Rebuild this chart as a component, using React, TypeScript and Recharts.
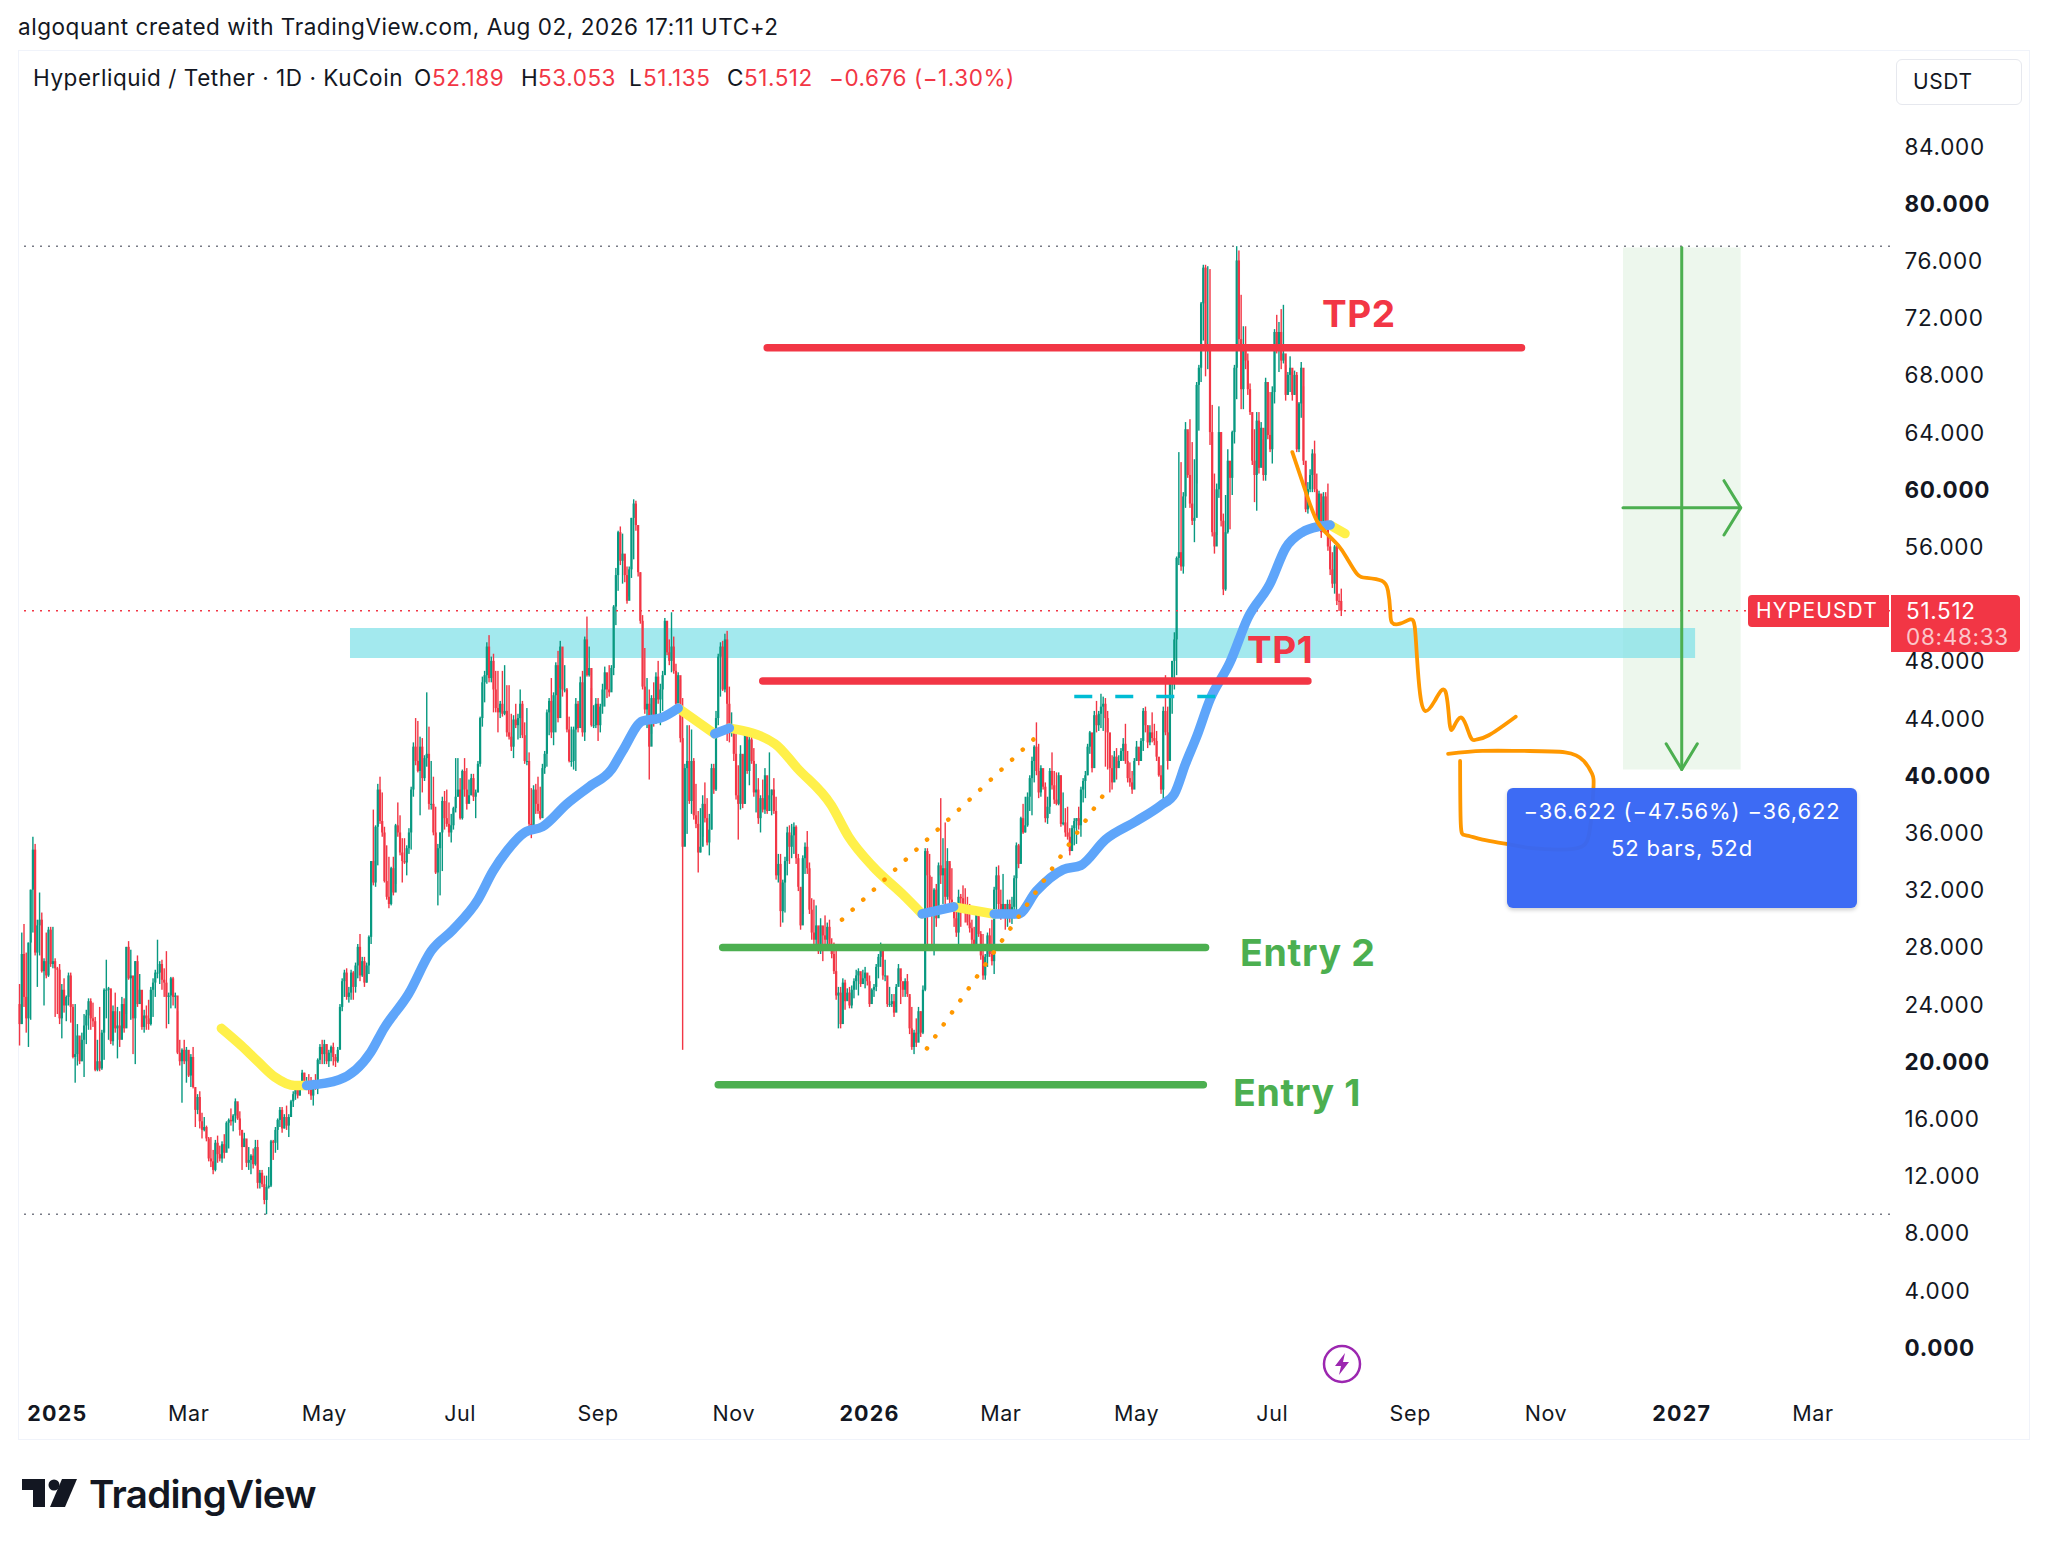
import { Bar, ComposedChart, Line, ReferenceArea, ReferenceLine, XAxis, YAxis } from "recharts";

// daily candles, first bar is 17 days before 1 Jan 2025; each open is the previous close
const firstDay = -17;
const firstOpen = 24;

const highs = [
  25.4, 29, 29.6, 27.6, 28.3, 32, 35.7, 35.2, 29.9, 31.8,
  30.4, 27.2, 29, 29.4, 29.4, 29.4, 27.2, 26.6, 26.8, 25.4,
  25.8, 24.6, 26.2, 26.2, 24, 24, 22.6, 21.3, 22, 23.3,
  23.6, 24.4, 24.4, 24.1, 23.1, 21.5, 23.8, 22.2, 25.1, 27.1,
  25.2, 25, 23.9, 24.8, 23.8, 23.5, 24.5, 24.4, 28, 28.4,
  27.8, 24.7, 27, 27.4, 26.1, 24.7, 23.6, 23.9, 24.3, 25.2,
  25.8, 26.4, 28.5, 27, 27.1, 26.5, 27.7, 24.8, 25.9, 25.9,
  24.8, 23.5, 21.5, 20.9, 21.5, 21, 20.5, 20.5, 21, 18.1,
  17.7, 17.9, 16.4, 16.1, 15.5, 14.7, 14.7, 13.8, 14.5, 14.8,
  14.1, 14.4, 14.9, 15.8, 16, 16.7, 16.3, 17.4, 17, 16.5,
  15.2, 15, 14.1, 14, 13.5, 13.9, 14.5, 14.5, 12.4, 12.4,
  12, 12, 12.6, 14.5, 14.5, 15.4, 16, 16.8, 16.8, 16.3,
  16.9, 16.3, 17.3, 17.9, 18.5, 18.5, 18.5, 19.4, 19.2, 18.9,
  19.1, 18.9, 18.7, 19.1, 20.2, 21.2, 21.5, 21.5, 21.2, 20.8,
  21.1, 21.3, 20.5, 21, 24, 25.8, 26.4, 26.5, 25.2, 26.4,
  26.3, 26.9, 28.2, 28.9, 27.3, 27.3, 26.9, 28.8, 34, 37.6,
  36.5, 39.4, 39.9, 38.8, 36.4, 35.1, 34.3, 33.6, 34.3, 36.6,
  38.1, 37.2, 35.6, 35.6, 35.1, 36.3, 39.2, 42.3, 44, 43.8,
  42.7, 42.6, 41.4, 45.8, 43.4, 41, 39.9, 37.8, 35.2, 36,
  38.5, 38.9, 39, 38.1, 37.3, 37.8, 41.2, 41.2, 39.8, 40.4,
  41.2, 40.5, 39.7, 40.1, 40.1, 39, 41, 44.1, 46.9, 47.3,
  49.3, 49.8, 48.3, 48.5, 47.3, 47.3, 45.2, 47.3, 47.7, 46.3,
  46.3, 44.3, 44.2, 45, 44.3, 46, 45.2, 43.7, 44.7, 41.6,
  39.1, 39.3, 39.4, 39.9, 39.2, 40.8, 41.7, 44.6, 45.4, 46.8,
  45.8, 47.9, 48.7, 49.4, 48.2, 47.7, 46.1, 44.1, 43.4, 43.4,
  45.4, 45.2, 46.9, 47.3, 49.7, 51.1, 49, 46.1, 44.9, 45.4,
  45.4, 45, 46.4, 47.6, 46.4, 47.7, 47.7, 51.9, 54.5, 57.1,
  57.4, 56.9, 55.3, 54.6, 54.6, 58, 59.3, 59.2, 56.5, 54.2,
  51.2, 48.9, 46.8, 46, 45.6, 46.5, 47.2, 48, 46.4, 47.3,
  51, 50.8, 49.5, 51.4, 49.7, 47.8, 47.2, 46.7, 45.4, 40.8,
  43.5, 43.5, 43.2, 41.2, 39.4, 37.5, 37.7, 38.6, 39.5, 38.4,
  37.3, 40.8, 40.8, 44.5, 48.5, 49.3, 49.4, 49.9, 50.1, 46.2,
  44.4, 42.7, 43.4, 40.7, 42.1, 41.4, 43.2, 43, 43.2, 43.2,
  41.9, 40.8, 39.8, 38.6, 39.7, 40.5, 39.4, 41.6, 39, 39.8,
  38.5, 34.5, 34.5, 32.7, 34.3, 36.4, 36.5, 36.6, 36.7, 36.5,
  34.5, 32.1, 34.4, 35.3, 36.1, 33.9, 31.4, 31.3, 30.9, 29.4,
  30, 29.4, 30.2, 29.7, 29.9, 28.6, 28.3, 27.9, 25.2, 25.2,
  25.8, 25.7, 25.1, 25.2, 25.3, 25.8, 26.4, 26.5, 26.1, 26.4,
  26.6, 26.1, 26, 25.1, 25.4, 26.8, 27.5, 28.3, 28.2, 27.1,
  25.5, 25.2, 24.7, 24.7, 25.4, 26.8, 25.9, 25.2, 25.8, 26.1,
  24.5, 23.8, 22.2, 23, 23.8, 23.5, 25.3, 34.9, 34.9, 34.5,
  32.9, 32.1, 32.4, 33.9, 38.4, 35.6, 36.7, 34.9, 33.8, 33.5,
  30.8, 31, 32, 31.7, 32.3, 32.1, 31.5, 31, 29.9, 29.4,
  30.6, 30.4, 29.1, 28.9, 27.5, 29, 29.3, 29.9, 32.2, 33.6,
  33.7, 32, 33.1, 31, 31.3, 31.3, 31.5, 33, 35.3, 35.2,
  37.1, 38, 38.5, 38.8, 40, 41.3, 42.1, 43.7, 42.2, 40.7,
  40.3, 39.5, 38.5, 40.5, 41.6, 40.3, 40.2, 40.2, 40, 38.8,
  37.7, 37.8, 36.3, 36.5, 37, 37, 37.8, 39.2, 39.8, 40.3,
  42.2, 43.1, 42.8, 44.5, 45.2, 44.5, 45.7, 45.5, 45.4, 44.5,
  41.7, 41.4, 41.7, 41.9, 41.4, 41.9, 42.6, 43.6, 41.7, 40.9,
  40.3, 41.2, 42.4, 41.6, 42.6, 44.7, 44.8, 43.5, 43.5, 44.4,
  43.6, 43.1, 40.6, 40.7, 44.8, 47, 44.8, 46.6, 48, 50,
  55.3, 62.6, 61.9, 59.8, 64.7, 64, 64.9, 63.3, 62.1, 67.5,
  68.7, 73.1, 75.7, 75.7, 75.6, 75.4, 65.9, 61.1, 60.4, 65.8,
  64, 58.3, 59.6, 62.8, 60.9, 64.1, 68.7, 77, 76.7, 73.6,
  71.4, 71.4, 69.5, 67.4, 64.2, 64.2, 65.4, 65.4, 64.7, 63.5,
  67.8, 66.9, 66.8, 67.2, 71.2, 72.2, 71.7, 72.6, 72.9, 68.7,
  68.2, 69.3, 68.2, 68.3, 68.2, 66.1, 68.9, 67.2, 61.7, 60.5,
  61.4, 62.8, 63.4, 61.1, 59.9, 59.1, 59.8, 59.8, 60.4, 56.8,
  55.6, 56.1, 56.1, 52.7, 53.053,
];

const lows = [
  21.1, 22.6, 23.8, 22, 21, 22.9, 29, 27.4, 25.2, 27.4,
  26.2, 23.9, 25.8, 25.9, 26.6, 26.5, 23.1, 23.3, 22.6, 21.6,
  23.4, 22.8, 23.9, 22.7, 20.2, 18.5, 19.7, 19.8, 20, 18.9,
  21.2, 22.2, 22.2, 22.4, 19.3, 19.3, 19.3, 19.4, 20.1, 23,
  21.5, 21.2, 21.1, 22, 20.2, 21, 22, 22, 23.3, 25.7,
  22.9, 20.5, 19.8, 23.8, 24, 22.2, 22, 22.2, 22.2, 22.5,
  23.1, 24.5, 25.8, 25.4, 25, 24.5, 22.3, 22.6, 23.7, 23.9,
  23.7, 20.5, 19.7, 17.1, 19.8, 18.5, 18.9, 18.2, 18.1, 15.4,
  16.3, 15.3, 14.6, 15.1, 14.4, 13, 12.6, 12.1, 12.3, 12.9,
  13, 12.9, 13.2, 13.9, 13.9, 15.5, 15.1, 15.7, 15.9, 14.8,
  12.4, 14, 12.6, 12.4, 12.1, 12.5, 12.7, 11.1, 11.1, 11.2,
  10, 9.3, 11.1, 11.2, 13.1, 13.6, 13.8, 15.4, 15, 15.3,
  15.2, 14.7, 16.3, 16.8, 17.3, 17.4, 17.6, 18, 18.2, 18.4,
  17.7, 17.3, 16.9, 18, 17.7, 19.8, 19.8, 19.8, 19.8, 19.6,
  20, 19.7, 19.6, 19.9, 21, 23.5, 24.5, 24.3, 24.1, 24.3,
  24.3, 24.8, 25.8, 25.6, 25.9, 25.2, 25.5, 26.1, 28.2, 32.3,
  32.2, 33.7, 36.6, 35.7, 32.5, 31.3, 30.7, 30.9, 31.6, 32.4,
  35.7, 34.4, 32.5, 33.8, 33, 34.5, 34.8, 38.5, 40.7, 40.2,
  37.2, 38.8, 39.6, 40.6, 37.6, 37.6, 35.8, 33.1, 30.9, 31.6,
  33.3, 36.2, 36.4, 35.7, 35.3, 36.2, 37.4, 38.5, 36.9, 36.9,
  38.5, 37.6, 38.3, 38.6, 38.2, 37, 38.8, 40.6, 43.4, 45.1,
  46.4, 46.5, 46.5, 44.4, 44.4, 43, 44, 44.1, 44.2, 42.7,
  42.5, 41.7, 41.2, 43.3, 42.5, 42.6, 42.6, 40.8, 40.7, 36.4,
  35.6, 36.4, 37.3, 37.3, 36.9, 37.5, 40.1, 40.6, 42.8, 42.6,
  42.1, 43, 43.7, 46.1, 45.5, 45.8, 43, 40.9, 40.6, 40.4,
  40.3, 43, 43.4, 42.7, 42.4, 46.9, 46.9, 43.4, 43.3, 43.3,
  42.4, 43, 44.3, 44.8, 45.4, 45.5, 46, 47, 50.5, 52.9,
  54.7, 53.4, 53.5, 52, 52.5, 53.8, 55.1, 57.1, 53.9, 50.6,
  46, 44.3, 43.3, 39.7, 42.9, 43.4, 43.6, 45, 43.5, 44.5,
  47.1, 48.4, 47.7, 47.2, 47.1, 44.5, 44.8, 42.3, 20.8, 35.1,
  35.9, 38, 37.3, 36.9, 36.3, 33.2, 34.6, 35.7, 36.7, 35.1,
  34.4, 36.2, 38.7, 38.9, 43.5, 45.5, 45.9, 45.8, 42.4, 42.3,
  42.7, 41, 38.3, 35.5, 37.6, 37.7, 38, 40.1, 39.3, 40.8,
  38.5, 37.4, 36.6, 36, 37.4, 37.3, 37.3, 38.3, 37.2, 37.3,
  32.7, 32.5, 29.4, 29.7, 30.4, 33, 33.8, 34.2, 34.5, 33.8,
  31.9, 29.2, 30.3, 33.1, 33.1, 30.3, 28.5, 28, 28.1, 27.5,
  27.5, 27, 28, 28.1, 27.9, 27.2, 26.1, 24.3, 22.3, 22.3,
  23.7, 23.6, 24.3, 23.7, 23.7, 24.4, 25, 24.6, 25.2, 25.4,
  25.1, 25.3, 23.8, 24.2, 24.5, 24.9, 25.8, 26.6, 25.7, 25.6,
  23.8, 23.8, 23.8, 23.1, 23.8, 25.4, 24, 24.5, 24.5, 24.5,
  21.9, 20.8, 20.5, 21, 21.9, 21.7, 21.9, 24.9, 27.9, 30.3,
  28.2, 27.4, 29.4, 30.8, 32.4, 31, 31, 31.3, 31, 30.6,
  29.4, 28.7, 28.2, 29.4, 30.6, 29.7, 29.5, 29, 28.2, 27.8,
  28.2, 28.7, 27.1, 25.7, 25.7, 26.6, 27.3, 26.7, 26.1, 30.6,
  30.3, 29.9, 30.6, 29.2, 29.4, 29.7, 29.6, 30, 30.3, 33.5,
  34.2, 35.9, 36, 36.4, 37.5, 37.2, 39.5, 40, 38.4, 38.5,
  39, 36.7, 36.6, 37.3, 39, 38, 37.9, 37.9, 36.4, 36.5,
  35.7, 35.5, 34.4, 35.6, 35.1, 35.2, 36.2, 35.7, 38.1, 38.4,
  40, 41.5, 40.2, 42.9, 43, 43.1, 43.3, 43.1, 40.6, 40.4,
  38.8, 39, 39.7, 39.7, 40.7, 41, 41, 40.8, 39.5, 39.2,
  38.7, 40, 41, 40.7, 41, 41.7, 43, 41.9, 42.1, 42.3,
  42.1, 41, 39.9, 38.7, 38.2, 42.8, 40.4, 41.3, 44.3, 46,
  47, 54.7, 54.3, 54.1, 58.7, 60.8, 58.7, 57.5, 56.3, 60.4,
  64.1, 67.5, 70.4, 67.9, 68.4, 63.1, 56.7, 55.5, 56.8, 59.4,
  57.4, 52.6, 52.9, 56.9, 57.2, 59.6, 63.2, 66.3, 70, 65.6,
  65.6, 68.4, 66.6, 65.2, 61.7, 59.1, 58.5, 61.1, 61.6, 60.6,
  60.6, 63.5, 62.6, 61.8, 66, 69.5, 68.2, 68.4, 68.8, 66.2,
  66.6, 66.8, 66.2, 66.6, 62.6, 62.6, 65, 61.7, 58.4, 58.3,
  59.8, 59.8, 59.8, 57.5, 57.1, 56.6, 57.2, 57.2, 55.7, 54,
  53.1, 52.7, 51.9, 51.5, 51.135,
];

const closes = [
  22.6, 27.5, 24.5, 23, 28.3, 32, 34.8, 27.6, 29.5, 29.9,
  26.3, 27, 26, 29.2, 26.8, 27, 26.5, 26.4, 23, 25,
  23.9, 24.5, 26, 23.8, 20.3, 20.5, 21.8, 20, 21.5, 22.5,
  23.2, 24.2, 23, 22.8, 19.4, 20, 19.5, 22, 25, 25,
  25.1, 21.4, 23.5, 22.3, 22.5, 21.5, 24, 22.3, 28, 25.8,
  26, 23, 27, 24, 25, 22.4, 23.2, 23, 22.6, 25,
  25.5, 26.2, 26.2, 26.8, 25.7, 25.5, 24.5, 24.6, 25.8, 24.5,
  24.6, 20.6, 20, 20.8, 20, 20.8, 19, 20.3, 18.2, 16.6,
  17.5, 15.8, 15.2, 15.4, 14.6, 13.2, 13, 12.4, 14.3, 13.5,
  13.2, 14.2, 13.6, 15.7, 15.9, 15.8, 16.2, 17.2, 16, 15.2,
  14, 14.6, 12.9, 13.1, 13.4, 12.8, 14, 11.5, 12.2, 11.4,
  10.3, 11.2, 11.3, 14.4, 14.3, 15.2, 15.9, 16.6, 15.3, 16.1,
  15.5, 16.1, 17.2, 17.7, 18.3, 17.6, 18.4, 19.2, 18.4, 18.6,
  18, 17.6, 18.6, 18.2, 20.1, 21, 20.5, 21.2, 20, 20.6,
  21, 20.3, 20, 20.8, 23.8, 25.6, 26.2, 24.5, 24.8, 26.2,
  25.2, 26.7, 28, 26, 27, 25.5, 26.7, 28.7, 34, 32.5,
  36.4, 39, 36.8, 36, 32.6, 31.5, 31, 33.5, 31.8, 36.5,
  36, 34.6, 34, 33.9, 34.9, 36, 39, 42, 41, 40.3,
  42, 39.8, 41.2, 41.5, 38, 38, 36, 33.2, 34.9, 36,
  38.2, 37, 36.6, 36, 36.5, 37.7, 38.5, 39, 37, 40.3,
  39, 38, 38.6, 39.8, 38.5, 38.8, 40.8, 44, 46.5, 47,
  49, 46.8, 48, 46, 44.7, 44.4, 45, 44.3, 44.5, 43,
  42.7, 42, 43.9, 43.5, 44, 45, 42.8, 41, 41, 36.6,
  36.5, 39, 38, 37.5, 37, 40.5, 41.5, 44.4, 45.2, 43,
  45.6, 47.7, 44, 49, 46, 46, 43.2, 41, 41, 43.2,
  45, 43.3, 46.5, 43, 49.5, 47, 47.5, 43.5, 43.5, 45,
  43.5, 44.8, 46, 47.2, 46, 45.8, 47.5, 51.8, 54, 57,
  55, 55.5, 54, 52.2, 54.4, 58, 59, 57.5, 54.2, 50.8,
  46.2, 44.6, 45, 42, 45.4, 44, 46.9, 45.3, 46, 47,
  50.8, 48.6, 48, 49, 47.3, 45, 47, 42.6, 35, 40.5,
  41, 38.2, 41, 37.2, 36.6, 34.6, 35, 38, 37, 35.3,
  36.2, 40.5, 39, 44, 48.3, 49, 46, 49.5, 45, 43,
  43, 41.5, 38.6, 38, 41.5, 38, 43, 40.3, 42.5, 41,
  38.8, 39, 37, 38.4, 37.6, 40, 37.5, 38.6, 39, 37.5,
  33, 33.8, 30.5, 32.5, 34, 36, 35, 35.8, 36.4, 34.2,
  32.2, 29.5, 34.2, 35, 33.5, 30.6, 29, 28.5, 29.5, 27.7,
  29.5, 28.8, 28.5, 29.4, 28, 27.5, 26.3, 24.6, 24.8, 22.6,
  25.5, 24.2, 24.8, 23.9, 25, 25.6, 26, 26.3, 25.4, 25.8,
  26.2, 25.6, 24, 25, 25.2, 26.6, 27.3, 28.1, 26, 26,
  24, 24, 24.2, 23.4, 25.2, 26.5, 25.6, 25, 25.6, 24.7,
  22.3, 21, 22, 21.3, 23.5, 22, 25, 34.7, 33, 30.6,
  30.5, 32, 30, 33.7, 33, 33.5, 31.5, 34, 31.3, 31,
  30, 29, 31.5, 31.4, 31, 30.5, 29.7, 29.3, 28.5, 28,
  30.4, 28.9, 27.4, 26, 27.3, 28.8, 27.5, 27, 32, 33,
  31, 30.5, 31, 30, 31, 30, 30.8, 32.8, 35.1, 33.8,
  37, 36, 36.5, 38.5, 39.8, 41, 42, 40.3, 38.8, 40.5,
  39.2, 37, 37.8, 40.3, 39.3, 38.3, 38, 40, 36.6, 36.7,
  36, 35.7, 34.7, 36.3, 36.8, 37, 36.5, 39, 39.6, 40,
  42, 43, 40.5, 44.2, 43.5, 44.3, 44.8, 45, 44, 43,
  40.5, 39.5, 41.3, 40.5, 41, 41.7, 42.2, 41, 39.8, 39.5,
  39, 41, 42, 41, 42.4, 44.5, 43.5, 42.3, 43, 42.6,
  42.4, 41.3, 40, 39, 44.5, 43, 41, 46.4, 48, 49.5,
  55.2, 55.6, 54.6, 59.5, 64.2, 61, 59, 57.8, 58, 67.3,
  68.5, 73, 75.5, 70, 70, 64, 57, 56, 60, 64,
  57.8, 53, 57, 62, 60.8, 64, 68.5, 76, 70.5, 67,
  70, 69, 67, 65.4, 62, 61, 64.8, 61.5, 64.3, 61,
  67.5, 63.8, 62.8, 66.8, 71, 70, 71, 69, 69.5, 66.6,
  68, 68.5, 66.6, 68, 62.8, 66, 68.5, 62, 58.6, 60,
  61, 62.5, 60, 57.8, 59.7, 57, 59.5, 57.5, 56, 54.4,
  53.4, 56, 52.2, 52.189, 51.512,
];

const priceTicks = [84, 80, 76, 72, 68, 64, 60, 56, 48, 44, 40, 36, 32, 28, 24, 20, 16, 12, 8, 4, 0];
const timeTicks = [0, 59, 120, 181, 243, 304, 365, 424, 485, 546, 608, 669, 730, 789];
const timeLabels = ["2025", "Mar", "May", "Jul", "Sep", "Nov", "2026", "Mar", "May", "Jul", "Sep", "Nov", "2027", "Mar"];

const lastPrice = 51.512;
const allTimeHigh = 77;
const allTimeLow = 9.3;

// moving average drawn in two colours, [day, price]
const yellowA = [[73.7, 22.3], [82.6, 21.1], [90, 20], [97.7, 18.9], [106.7, 18.3], [112, 18.3]];
const blueA = [[112, 18.3], [126.6, 18.7], [140.7, 20.6], [146.8, 22.3], [157.8, 24.7], [167.9, 27.7], [177.8, 29.2], [189, 31.3], [195.8, 33.3], [202, 34.7], [210, 36], [218, 36.4], [229, 38], [239, 39.2], [249, 40.4], [254, 41.7], [263, 43.8], [271, 44], [279, 44.7]];
const yellowB = [[279, 44.7], [295.4, 42.9]];
const blueB = [[295.4, 42.9], [302, 43.3]];
const yellowC = [[302, 43.3], [322.5, 42.2], [332.5, 40.5], [347.8, 37.9], [355.6, 35.7], [366.6, 33.6], [379.7, 31.7], [388.6, 30.3]];
const blueC = [[388.6, 30.3], [402.8, 30.8]];
const yellowD = [[402.8, 30.8], [421, 30.3]];
const blueD = [[421, 30.3], [431.8, 30.3], [440, 31.9], [452, 33.4], [460, 33.7], [471, 35.5], [485, 36.8], [496, 37.9], [502, 38.7], [507, 40.8], [512, 42.7], [518, 45.3], [527, 47.9], [535, 51], [545, 53.4], [552, 55.9], [559.5, 57], [567, 57.4], [572, 57.5]];
const yellowE = [[572, 57.5], [578.7, 56.9]];

// hand drawn orange projection
const orangeA = [[555, 62.6], [561.5, 59.6], [566, 57.8], [570.5, 56.9], [575.5, 56.1], [579.5, 55.2], [584, 54.1], [588.4, 53.8], [595.2, 53.6], [598, 52.9], [599, 51.5], [599.7, 50.7], [603.4, 50.6], [608, 50.9], [610, 50.4], [611, 48.3], [612.4, 45.7], [614.7, 44.5], [619, 45.2], [623.7, 45.9], [625.7, 43.6], [627.6, 43.4], [631.3, 44], [635, 42.7], [637.8, 42.5], [643.3, 42.8], [655.4, 44.1]];
const orangeB = [[625, 41.5], [640.5, 41.7], [659, 41.7], [677.6, 41.6], [686, 41], [689.7, 40.1], [690.3, 39], [688.7, 36.2], [685, 35], [675.8, 34.8], [662.7, 34.9], [651.3, 35.2], [640.5, 35.5], [633, 35.8], [630.7, 36.6], [630.4, 41]];
const channelTop = [[352.6, 29.9], [440, 42.7]];
const channelBottom = [[390.8, 20.9], [470, 38.6]];
const necklace = [[457, 45.5], [521, 45.5]];

// levels [day, price]
const tp2 = [[319, 69.9], [658, 69.9]];
const tp1 = [[317, 46.6], [562, 46.6]];
const entry2 = [[299, 27.95], [516, 27.95]];
const entry1 = [[297, 18.35], [515, 18.35]];

// measure tool
const measureX = [703.6, 756.5];
const measureMid = 730;
const measureTop = 76.9;
const measureBottom = 40.4;
const measureHoriz = [[703.6, 58.7], [756.5, 58.7]];
const measureHorizHead = [[749, 60.6], [756.5, 58.7], [749, 56.8]];
const measureVert = [[measureMid, measureTop], [measureMid, measureBottom]];
const measureVertHead = [[723, 42.2], [measureMid, measureBottom], [737, 42.2]];
const zoneX = [131.5, 736];
const zoneY = [48.2, 50.3];

const pts = (list: number[][]) => list.map(([day, price]) => ({ day, price }));

const candles = closes.map((close, i) => ({
  day: firstDay + i,
  range: [lows[i], highs[i]],
  open: i === 0 ? firstOpen : closes[i - 1],
  close,
}));

const UP = "#089981";
const DOWN = "#F23645";
const FONT = "Inter, 'Noto Sans', sans-serif";

const CandleShape = (props: any) => {
  const { x, y, width, height, payload } = props;
  const [low, high] = payload.range;
  const toY = (v: number) => y + ((high - v) / (high - low)) * height;
  const color = payload.close >= payload.open ? UP : DOWN;
  const cx = x + width / 2;
  const top = toY(Math.max(payload.open, payload.close));
  const bottom = toY(Math.min(payload.open, payload.close));
  return (
    <g>
      <rect x={cx - 0.7} y={y} width={1.4} height={height} fill={color} />
      <rect x={cx - 1.1} y={top} width={2.2} height={Math.max(bottom - top, 1)} fill={color} />
    </g>
  );
};

const PriceTick = (props: any) => {
  const { x, y, payload } = props;
  const strong = payload.value % 20 === 0;
  return (
    <text x={x + 6.5} y={y} dy={8.5} fontFamily={FONT} fontSize={22.5} letterSpacing={0.7} fontWeight={strong ? 700 : 400} fill="#131722">
      {payload.value.toFixed(3)}
    </text>
  );
};

const TimeTick = (props: any) => {
  const { x, y, index } = props;
  const label = timeLabels[index];
  const strong = label.length === 4;
  return (
    <text x={x} y={y} dy={20} textAnchor="middle" fontFamily={FONT} fontSize={21.5} letterSpacing={strong ? 1.2 : 0.6} fontWeight={strong ? 700 : 400} fill="#131722">
      {label}
    </text>
  );
};

const overlay = (list: number[][], stroke: string, strokeWidth: number, extra: any = {}) => (
  <Line
    data={pts(list)}
    dataKey="price"
    stroke={stroke}
    strokeWidth={strokeWidth}
    strokeLinecap="round"
    strokeLinejoin="round"
    dot={false}
    activeDot={false}
    legendType="none"
    isAnimationActive={false}
    {...extra}
  />
);

const absText = (text: string, left: number, top: number, style: any) => (
  <div style={{ position: "absolute", left, top, whiteSpace: "nowrap", fontFamily: FONT, lineHeight: 1, ...style }}>{text}</div>
);

const legendStyle = { fontSize: 22.5, letterSpacing: 0.55, color: "#131722" };
const legendRed = { fontSize: 22.5, letterSpacing: 0.55, color: DOWN };

export default function App() {
  return (
    <div style={{ position: "absolute", left: 0, top: 0, width: 2047, height: 1549, background: "#fff", overflow: "hidden" }}>
      {absText("algoquant created with TradingView.com, Aug 02, 2026 17:11 UTC+2", 18, 16, legendStyle)}
      <div style={{ position: "absolute", left: 18, top: 50, width: 2010, height: 1388, border: "1px solid #f0f3fa" }} />

      <div style={{ position: "absolute", left: 0, top: 0 }}>
        <ComposedChart width={2047} height={1549} data={candles} margin={{ top: 50, right: 18, bottom: 110, left: 18 }}>
          <XAxis
            dataKey="day"
            type="number"
            scale="linear"
            domain={[-17.7, 823.6]}
            allowDataOverflow
            ticks={timeTicks}
            interval={0}
            axisLine={false}
            tickLine={false}
            height={46}
            tick={<TimeTick />}
          />
          <YAxis
            orientation="right"
            type="number"
            domain={[-3.2, 90.72]}
            allowDataOverflow
            ticks={priceTicks}
            interval={0}
            axisLine={false}
            tickLine={false}
            width={139}
            tick={<PriceTick />}
          />
          <ReferenceArea x1={measureX[0]} x2={measureX[1]} y1={measureBottom} y2={measureTop} fill="#4CAF50" fillOpacity={0.1} stroke="none" />
          <ReferenceArea x1={zoneX[0]} x2={zoneX[1]} y1={zoneY[0]} y2={zoneY[1]} fill="#7FE0E8" fillOpacity={0.72} stroke="none" />
          <ReferenceLine y={allTimeHigh} stroke="#787B86" strokeWidth={1.5} strokeDasharray="2 6" />
          <ReferenceLine y={allTimeLow} stroke="#787B86" strokeWidth={1.5} strokeDasharray="2 6" />
          <ReferenceLine y={lastPrice} stroke={DOWN} strokeWidth={1.5} strokeDasharray="2 6" />
          <Bar dataKey="range" barSize={2} shape={<CandleShape />} isAnimationActive={false} legendType="none" />

          {overlay(yellowA, "#FFF04A", 9.5, { type: "monotone" })}
          {overlay(yellowB, "#FFF04A", 9.5)}
          {overlay(yellowC, "#FFF04A", 9.5, { type: "monotone" })}
          {overlay(yellowD, "#FFF04A", 9.5)}
          {overlay(yellowE, "#FFF04A", 9.5)}
          {overlay(blueA, "#5EA5FA", 9.5, { type: "monotone" })}
          {overlay(blueB, "#5EA5FA", 9.5)}
          {overlay(blueC, "#5EA5FA", 9.5)}
          {overlay(blueD, "#5EA5FA", 9.5, { type: "monotone" })}

          {overlay(tp2, "#F23645", 7.5)}
          {overlay(tp1, "#F23645", 7.5)}
          {overlay(entry2, "#4CAF50", 7.5)}
          {overlay(entry1, "#4CAF50", 7.5)}
          {overlay(necklace, "#00BCD4", 3.5, { strokeLinecap: "butt", strokeDasharray: "18 23" })}
          {overlay(channelTop, "#FF9800", 4.5, { strokeDasharray: "0.1 14.5" })}
          {overlay(channelBottom, "#FF9800", 4.5, { strokeDasharray: "0.1 14.5" })}
          {overlay(orangeA, "#FF9800", 3.8, { type: "natural" })}
          {overlay(orangeB, "#FF9800", 3.8, { type: "natural" })}
          {overlay(measureVert, "#4CAF50", 3)}
          {overlay(measureVertHead, "#4CAF50", 3)}
          {overlay(measureHoriz, "#4CAF50", 3)}
          {overlay(measureHorizHead, "#4CAF50", 3)}
        </ComposedChart>
      </div>

      {/* header legend */}
      {absText("Hyperliquid / Tether · 1D · KuCoin", 33, 67, legendStyle)}
      {absText("O", 414, 67, legendStyle)}
      {absText("52.189", 432, 67, legendRed)}
      {absText("H", 521, 67, legendStyle)}
      {absText("53.053", 538, 67, legendRed)}
      {absText("L", 629, 67, legendStyle)}
      {absText("51.135", 643, 67, legendRed)}
      {absText("C", 727, 67, legendStyle)}
      {absText("51.512", 744, 67, legendRed)}
      {absText("−0.676 (−1.30%)", 829, 67, legendRed)}

      {/* currency button */}
      <div style={{ position: "absolute", left: 1896, top: 59, width: 124, height: 44, border: "1px solid #e6e8ee", borderRadius: 6 }} />
      {absText("USDT", 1913, 71, { fontSize: 21, letterSpacing: 0.6, color: "#131722" })}

      {/* drawing labels */}
      {absText("TP2", 1322, 295, { fontSize: 37, fontWeight: 700, color: DOWN, letterSpacing: 0.5 })}
      {absText("TP1", 1247, 631, { fontSize: 37, fontWeight: 700, color: DOWN, letterSpacing: 0.5 })}
      {absText("Entry 2", 1240, 934, { fontSize: 37.5, fontWeight: 700, color: "#4CAF50", letterSpacing: 0.7 })}
      {absText("Entry 1", 1233, 1074, { fontSize: 37.5, fontWeight: 700, color: "#4CAF50", letterSpacing: 0.7 })}

      {/* price labels */}
      <div style={{ position: "absolute", left: 1748, top: 595, width: 141, height: 32, background: DOWN, borderRadius: "4px 0 0 4px" }} />
      {absText("HYPEUSDT", 1756, 600, { fontSize: 21, letterSpacing: 1.1, color: "#fff" })}
      <div style={{ position: "absolute", left: 1891, top: 595, width: 129, height: 57, background: DOWN, borderRadius: "0 4px 4px 0" }} />
      {absText("51.512", 1906, 600, { fontSize: 22.5, letterSpacing: 0.7, color: "#fff" })}
      {absText("08:48:33", 1906, 626, { fontSize: 22.5, letterSpacing: 0.7, color: "rgba(255,255,255,0.72)" })}

      {/* measure box */}
      <div style={{ position: "absolute", left: 1507, top: 788, width: 350, height: 120, background: "#3767F4", opacity: 0.97, borderRadius: 6, boxShadow: "0 2px 4px rgba(0,0,0,0.2)" }} />
      {absText("−36.622 (−47.56%) −36,622", 1507, 800, { width: 350, textAlign: "center", fontSize: 22, letterSpacing: 0.85, color: "#fff" })}
      {absText("52 bars, 52d", 1507, 837, { width: 350, textAlign: "center", fontSize: 22, letterSpacing: 0.85, color: "#fff" })}

      {/* lightning badge */}
      <svg style={{ position: "absolute", left: 1320, top: 1342 }} width={44} height={44} viewBox="0 0 44 44">
        <circle cx={22} cy={22} r={18} fill="#fff" stroke="#9C27B0" strokeWidth={2.5} />
        <path d="M25 11 L15 24 H21 L19 33 L29 20 H23 Z" fill="#9C27B0" />
      </svg>

      {/* logo */}
      <svg style={{ position: "absolute", left: 20, top: 1476 }} width={64} height={34} viewBox="0 0 64 34">
        <path d="M2 3 H25 V31 H13 V14 H2 Z" fill="#131722" />
        <circle cx={34} cy={9} r={5.5} fill="#131722" />
        <path d="M42 3 H57 L45 31 H30 Z" fill="#131722" />
      </svg>
      {absText("TradingView", 89, 1475, { fontSize: 38.5, fontWeight: 600, letterSpacing: -0.7, color: "#131722" })}
    </div>
  );
}
